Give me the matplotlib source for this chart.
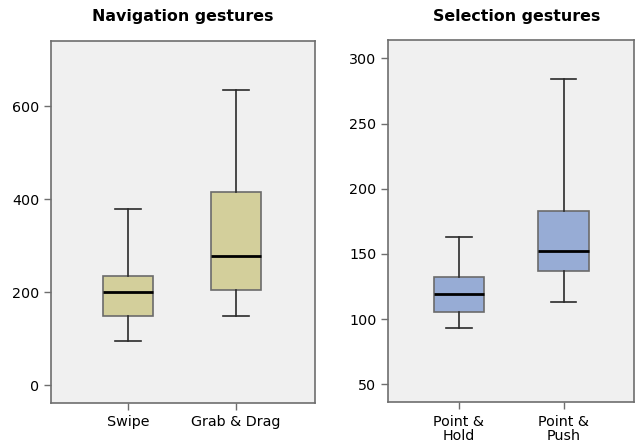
import matplotlib.pyplot as plt

# navigation gestures (left panel)
nav_labels = ['Swipe', 'Grab & Drag']
nav_low = [95, 150]
nav_q1 = [150, 205]
nav_med = [200, 278]
nav_q3 = [236, 416]
nav_high = [378, 635]

# selection gestures (right panel)
sel_labels = ['Point &\nHold', 'Point &\nPush']
sel_low = [93, 113]
sel_q1 = [105.5, 137]
sel_med = [119, 152]
sel_q3 = [132.5, 183]
sel_high = [163, 284]


def make_stats(low, q1, med, q3, high):
    return [dict(whislo=a, q1=b, med=c, q3=d, whishi=e, fliers=[])
            for a, b, c, d, e in zip(low, q1, med, q3, high)]


def draw(ax, stats, labels, fill, width):
    ax.set_facecolor('#f0f0f0')
    ax.bxp(stats, positions=[1, 2], widths=width, patch_artist=True,
           boxprops=dict(facecolor=fill, edgecolor='#6b6b6b', linewidth=1.2),
           medianprops=dict(color='black', linewidth=2),
           whiskerprops=dict(color='#2a2a2a', linewidth=1.2),
           capprops=dict(color='#2a2a2a', linewidth=1.2),
           capwidths=width * 0.5)
    ax.set_xticks([1, 2])
    ax.set_xticklabels(labels, fontsize=10.3, linespacing=1.05)
    for s in ax.spines.values():
        s.set_color('#6e6e6e')
        s.set_linewidth(1.2)
    ax.tick_params(axis='both', colors='#6e6e6e', labelcolor='black',
                   length=5, width=1, labelsize=10.3)
    ax.tick_params(axis='x', pad=4)


fig = plt.figure(figsize=(6.35, 4.43), dpi=100)

ax1 = fig.add_axes([0.0803, 0.0903, 0.4157, 0.8171])
draw(ax1, make_stats(nav_low, nav_q1, nav_med, nav_q3, nav_high),
     nav_labels, '#d3cf9b', 0.47)
ax1.set_xlim(0.287, 2.73)
ax1.set_ylim(-38, 740)
ax1.set_yticks([0, 200, 400, 600])

ax2 = fig.add_axes([0.6115, 0.0919, 0.3865, 0.8171])
draw(ax2, make_stats(sel_low, sel_q1, sel_med, sel_q3, sel_high),
     sel_labels, '#97acd5', 0.486)
ax2.set_xlim(0.325, 2.67)
ax2.set_ylim(36.2, 313.8)
ax2.set_yticks([50, 100, 150, 200, 250, 300])

fig.text(183 / 635, 1 - 17 / 443, 'Navigation gestures', ha='center',
         va='center', fontsize=11.4, fontweight='bold')
fig.text(517 / 635, 1 - 16 / 443, 'Selection gestures', ha='center',
         va='center', fontsize=11.4, fontweight='bold')

fig.savefig('out.png', dpi=100, facecolor='white')
